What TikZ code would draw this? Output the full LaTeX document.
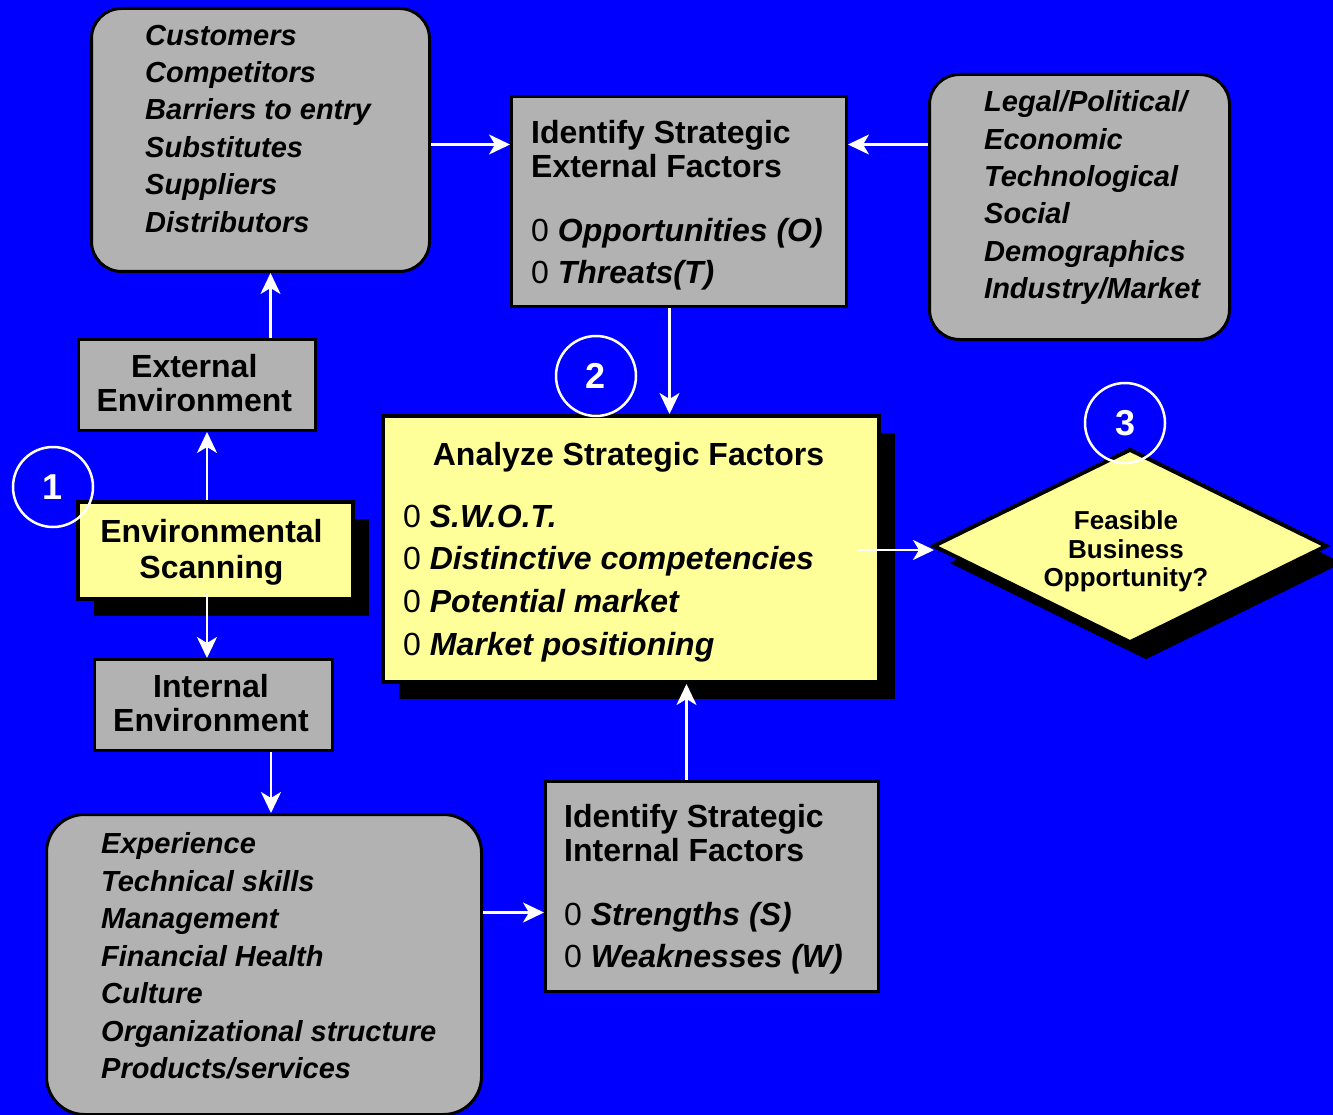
\documentclass[tikz,border=0pt]{standalone}
\usepackage{fontspec}
\setmainfont{Liberation Sans}
\usetikzlibrary{arrows.meta,shadows,shapes.geometric}

\definecolor{bgblue}{RGB}{0,0,255}
\definecolor{boxgray}{RGB}{178,178,178}
\definecolor{noteyellow}{RGB}{255,255,153}

% invisible strut that fixes the first baseline 28pt below a text node's top
\newcommand\hd{\rule{0pt}{28pt}}
% list entry: plain "0" marker followed by bold italic text
\newcommand\itm[1]{{\mdseries\upshape 0}~{\bfseries\itshape #1}}

\begin{document}
\begin{tikzpicture}[x=1pt,y=-1pt,
  graybox/.style={draw=black, line width=3pt, fill=boxgray, inner sep=0pt, anchor=north west},
  roundbox/.style={graybox, rounded corners=#1},
  yelbox/.style={draw=black, line width=4pt, fill=noteyellow, inner sep=0pt, anchor=north west,
    drop shadow={shadow xshift=16pt, shadow yshift=-17pt, fill=black, opacity=1}},
  arr/.style={draw=white, line width=2.5pt, -{Stealth[length=21pt, width=20pt, inset=6pt]}},
  numcirc/.style={circle, draw=white, line width=2.5pt, minimum size=80pt, inner sep=0pt,
    text=white, font=\fontsize{36}{36}\selectfont\bfseries},
  listtxt/.style={font=\fontsize{29}{37.4}\selectfont\bfseries\itshape, inner sep=0pt,
    anchor=north west, align=left},
  headtxt/.style={font=\fontsize{32}{34.3}\selectfont\bfseries, inner sep=0pt,
    anchor=north west, align=left},
  itemtxt/.style={font=\fontsize{32}{#1}\selectfont, inner sep=0pt,
    anchor=north west, align=left},
  ctrtxt/.style={font=\fontsize{32}{#1}\selectfont\bfseries, inner sep=0pt,
    anchor=north, align=center}
]
% canvas
\fill[bgblue] (0,0) rectangle (1333,1115);
\useasboundingbox (0,0) rectangle (1333,1115);

% boxes
\node[roundbox=30pt, minimum width=338pt, minimum height=263pt] (cust)    at (90,7)   {};
\node[graybox,       minimum width=335pt, minimum height=210pt] (extf)    at (510,95) {};
\node[roundbox=30pt, minimum width=300pt, minimum height=265pt] (legal)   at (928,73) {};
\node[graybox,       minimum width=237pt, minimum height=91pt]  (extenv)  at (77,338) {};
\node[yelbox,        minimum width=275pt, minimum height=97pt]  (scan)    at (76,500) {};
\node[graybox,       minimum width=238pt, minimum height=91pt]  (intenv)  at (93,658) {};
\node[roundbox=38pt, minimum width=435pt, minimum height=300pt] (exper)   at (45,813) {};
\node[graybox,       minimum width=333pt, minimum height=210pt] (intf)    at (544,780) {};
\node[yelbox,        minimum width=496pt, minimum height=266pt] (analyze) at (381,414) {};
\node[diamond, draw=black, line width=4pt, fill=noteyellow, inner sep=0pt,
      minimum width=394pt, minimum height=194pt,
      drop shadow={shadow xshift=16pt, shadow yshift=-17pt, fill=black, opacity=1}]
      (feas) at (1130,546) {};

% connectors
\draw[arr] ([yshift=-4.5pt]cust.east) -- ([yshift=-4.5pt]cust.east -| extf.west);
\draw[arr] ([yshift=62.5pt]legal.west) -- ([yshift=62.5pt]legal.west -| extf.east);
\path ([xshift=-9.5pt]extf.south) coordinate (a1)
      ([xshift=73.5pt]extenv.north) coordinate (a2)
      ([xshift=-8.5pt]scan.north) coordinate (a3)
      ([xshift=-8.5pt,yshift=7pt]scan.south) coordinate (a4)
      ([xshift=57.5pt]intenv.south) coordinate (a5)
      ([yshift=52pt]exper.east) coordinate (a6)
      ([xshift=-25.5pt]intf.north) coordinate (a7)
      ([xshift=-24pt,yshift=-1pt]analyze.east) coordinate (a8);
\draw[arr] (a1) -- (a1 |- analyze.north);
\draw[arr] (a2) -- (a2 |- cust.south);
\draw[arr] (a3) -- (a3 |- extenv.south);
\draw[arr] (a4) -- (a4 |- intenv.north);
\draw[arr] (a5) -- (a5 |- exper.north);
\draw[arr] (a6) -- (a6 -| intf.west);
\draw[arr] (a7) -- (a7 |- analyze.south);
\draw[arr] (a8) -- ([xshift=3pt]a8 -| feas.west);

% texts
\node[listtxt] (cust-t) at (145,17) {\hd Customers\\Competitors\\Barriers to entry\\Substitutes\\Suppliers\\Distributors};
\node[listtxt] (legal-t) at (984,83.5) {\hd Legal/Political/\\Economic\\Technological\\Social\\Demographics\\Industry/Market};
\node[listtxt, font=\fontsize{29}{37.5}\selectfont\bfseries\itshape] (exper-t) at (101,825.5)
  {\hd Experience\\Technical skills\\Management\\Financial Health\\Culture\\Organizational structure\\Products/services};

\node[headtxt] (extf-h) at (531,115) {\hd Identify Strategic\\External Factors};
\node[itemtxt=42] (extf-i) at (531,213) {\hd\itm{Opportunities (O)}\\\itm{Threats(T)}};

\node[headtxt] (intf-h) at (564,799) {\hd Identify Strategic\\Internal Factors};
\node[itemtxt=42] (intf-i) at (564,897) {\hd\itm{Strengths (S)}\\\itm{Weaknesses (W)}};

\node[ctrtxt=34] (analyze-h) at (628.5,437) {\hd Analyze Strategic Factors};
\node[itemtxt=42.7] (analyze-i) at (403,499) {\hd\itm{S.W.O.T.}\\\itm{Distinctive competencies}\\\itm{Potential market}\\\itm{Market positioning}};

\node[ctrtxt=36.5] (scan-t) at (211.5,514) {\hd Environmental\\Scanning};
\node[ctrtxt=34] (extenv-t) at (194.3,349) {\hd External\\Environment};
\node[ctrtxt=33.5] (intenv-t) at (211,669.5) {\hd Internal\\Environment};
\node[ctrtxt=28.7, font=\fontsize{26}{28.7}\selectfont\bfseries] (feas-t) at (1126,506.3)
  {\rule{0pt}{23pt}Feasible\\Business\\Opportunity?};

% step numbers
\node[numcirc] (n1) at (53,487)   {1};
\node[numcirc] (n2) at (596,376)  {2};
\node[numcirc] (n3) at (1125,423) {3};
\end{tikzpicture}
\end{document}
